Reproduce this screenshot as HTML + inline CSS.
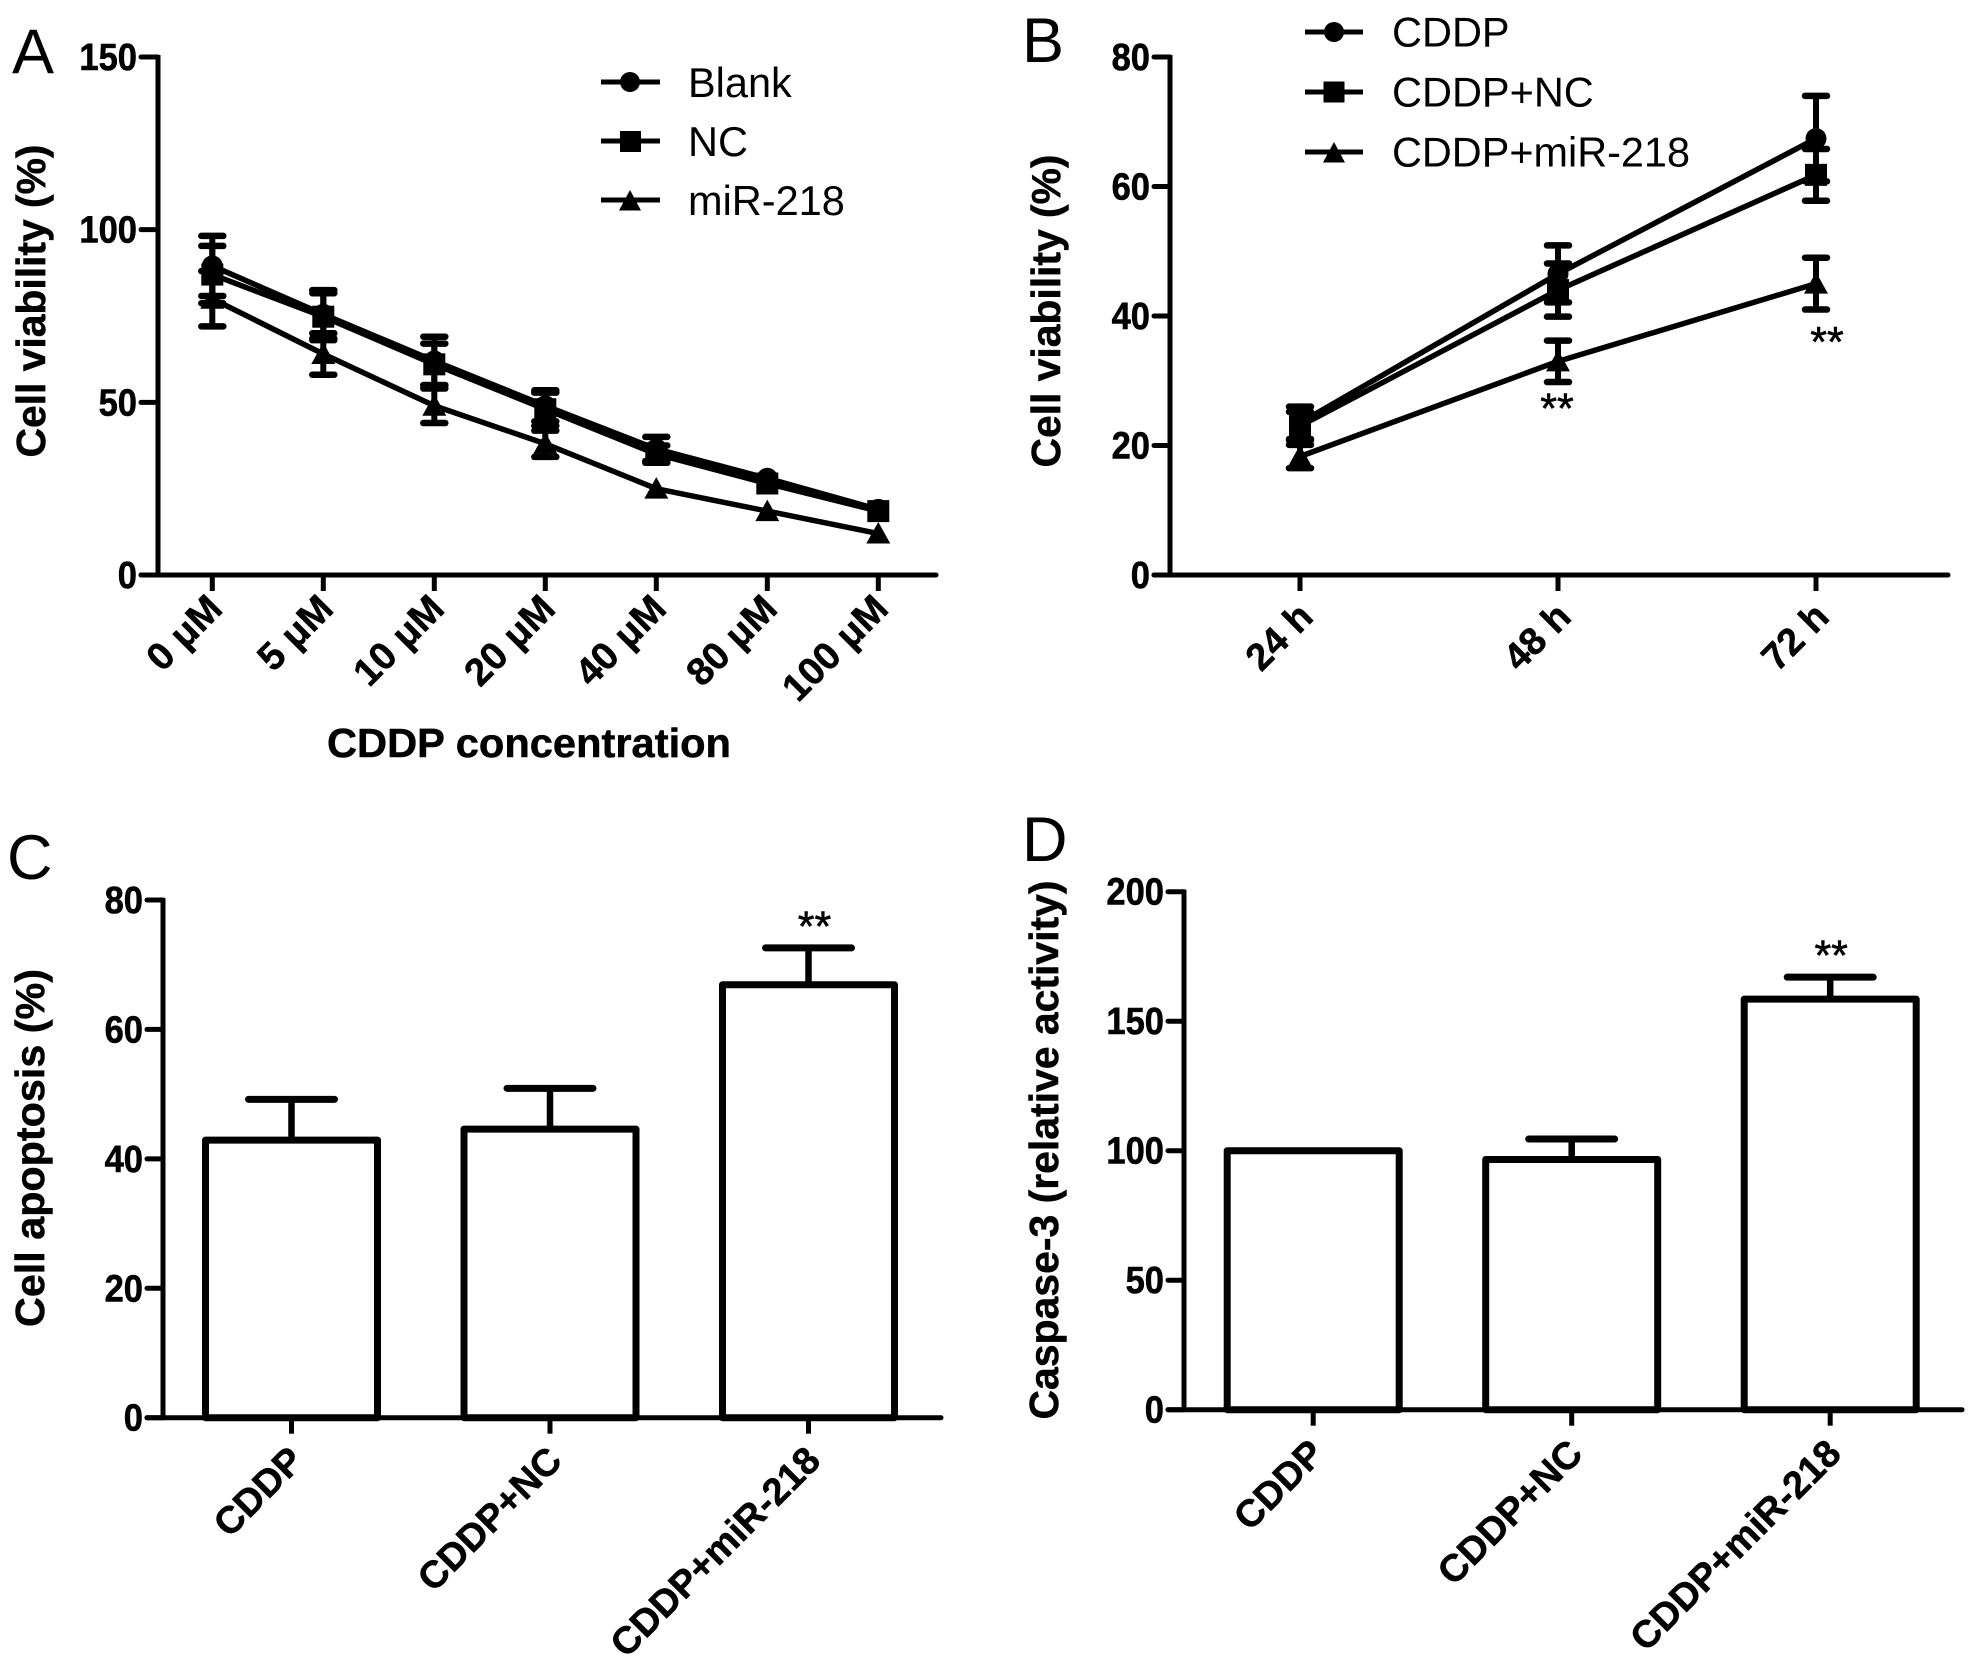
<!DOCTYPE html>
<html lang="en">
<head>
<meta charset="utf-8">
<title>Cell viability, apoptosis and caspase-3 charts</title>
<style>
html,body{margin:0;padding:0;background:#fff;width:1978px;height:1666px;overflow:hidden}
svg{display:block}
text{font-family:"Liberation Sans",Arial,sans-serif;fill:#000}
.panel-letter{font-size:63px}
.axis-title{font-size:41px;font-weight:bold;stroke:#000;stroke-width:.5px}
.legend-text{font-size:41.5px}
</style>
</head>
<body>
<svg id="figure" xmlns="http://www.w3.org/2000/svg" width="1978" height="1666" viewBox="0 0 1978 1666">
  <rect x="0" y="0" width="1978" height="1666" fill="#fff"/>

  <g id="panel-a">
    <text class="panel-letter" x="12" y="73">A</text>
    <text class="axis-title" transform="translate(45,301) rotate(-90)" text-anchor="middle" textLength="313" lengthAdjust="spacingAndGlyphs">Cell viability (%)</text>
    <text class="axis-title" x="327" y="757" textLength="404" lengthAdjust="spacingAndGlyphs">CDDP concentration</text>
    <g>
      <g>
        <line x1="601" x2="660" y1="82" y2="82" stroke="#000" stroke-width="5"/>
        <circle cx="630" cy="82" r="10"/>
        <text class="legend-text" x="688" y="97">Blank</text>
      </g>
      <g>
        <line x1="601" x2="660" y1="141" y2="141" stroke="#000" stroke-width="5"/>
        <rect x="620" y="131" width="21" height="21"/>
        <text class="legend-text" x="688" y="156">NC</text>
      </g>
      <g>
        <line x1="601" x2="660" y1="200" y2="200" stroke="#000" stroke-width="5"/>
        <polygon points="630,190 619,210.5 641,210.5"/>
        <text class="legend-text" x="688" y="215">miR-218</text>
      </g>
    </g>
  </g>

  <g id="panel-b">
    <text class="panel-letter" x="1022" y="62">B</text>
    <text class="axis-title" transform="translate(1060,311) rotate(-90)" text-anchor="middle" textLength="313" lengthAdjust="spacingAndGlyphs">Cell viability (%)</text>
    <g>
      <g>
        <line x1="1305" x2="1363" y1="32" y2="32" stroke="#000" stroke-width="5"/>
        <circle cx="1334" cy="32" r="10"/>
        <text class="legend-text" x="1392" y="46.5">CDDP</text>
      </g>
      <g>
        <line x1="1305" x2="1363" y1="92" y2="92" stroke="#000" stroke-width="5"/>
        <rect x="1323.5" y="81.5" width="21" height="21"/>
        <text class="legend-text" x="1392" y="106.5">CDDP+NC</text>
      </g>
      <g>
        <line x1="1305" x2="1363" y1="152" y2="152" stroke="#000" stroke-width="5"/>
        <polygon points="1334,142 1323,162.5 1345,162.5"/>
        <text class="legend-text" x="1392" y="166.5" textLength="298" lengthAdjust="spacingAndGlyphs">CDDP+miR-218</text>
      </g>
    </g>
  </g>

  <g id="panel-c">
    <text class="panel-letter" x="7" y="879">C</text>
    <text class="axis-title" transform="translate(44,1148) rotate(-90)" text-anchor="middle" textLength="358" lengthAdjust="spacingAndGlyphs">Cell apoptosis (%)</text>
  </g>

  <g id="panel-d">
    <text class="panel-letter" x="1022" y="861">D</text>
    <text class="axis-title" transform="translate(1058,1150) rotate(-90)" text-anchor="middle" textLength="539" lengthAdjust="spacingAndGlyphs">Caspase-3 (relative activity)</text>
  </g>
</svg>

<script>
// Panel A data
const panelACategories = ['0 μM','5 μM','10 μM','20 μM','40 μM','80 μM','100 μM'];
const panelATicks = [0,50,100,150];
const blankMeans = [89.5,75.5,62,49,36.5,28,19];
const blankErrors = [8.7,7,7,4.5,3.5,0,0];
const ncMeans = [87,74.8,61,48,35,26.5,18.5];
const ncErrors = [8.3,6.8,6,4.8,2.5,0,0];
const mirMeans = [80,64,49,38,25,18.5,12];
const mirErrors = [8,6,5,3.8,0,0,0];

// Panel B data
const panelBCategories = ['24 h','48 h','72 h'];
const panelBTicks = [0,20,40,60,80];
const cddpMeans = [23.5,46.5,67.4];
const cddpErrors = [2.5,4.4,6.6];
const cddpNcMeans = [23,44,61.8];
const cddpNcErrors = [2.2,4.1,4];
const cddpMirMeans = [18.3,33,45];
const cddpMirErrors = [1.8,3.2,4];

// Panel C data
const panelCCategories = ['CDDP','CDDP+NC','CDDP+miR-218'];
const panelCTicks = [0,20,40,60,80];
const apoptosisMeans = [42.9,44.6,66.9];
const apoptosisErrors = [6.3,6.3,5.7];

// Panel D data
const panelDCategories = ['CDDP','CDDP+NC','CDDP+miR-218'];
const panelDTicks = [0,50,100,150,200];
const caspaseMeans = [100,96.6,158.5];
const caspaseErrors = [0,7.9,8.5];

const NS = 'http://www.w3.org/2000/svg';

function mk(parent, tag, attrs, name) {
  const el = document.createElementNS(NS, tag);
  for (const k in attrs) el.setAttribute(k, attrs[k]);
  
  
  parent.appendChild(el);
  return el;
}

function yScale(ax) {
  return function (v) { return ax.y0 - (v / ax.vmax) * (ax.y0 - ax.yTop); };
}

function drawAxes(g, ax, yTicks, categories, xOf) {
  const y = yScale(ax);
  mk(g, 'line', {x1: ax.x0, x2: ax.x0, y1: ax.yTop - 2, y2: ax.y0, stroke: '#000', 'stroke-width': 5}, 'y-axis-line');
  mk(g, 'line', {x1: ax.xLeft, x2: ax.xRight, y1: ax.y0, y2: ax.y0, stroke: '#000', 'stroke-width': 5, 'stroke-linecap': 'round'}, 'x-axis-line');
  yTicks.forEach(function (t) {
    mk(g, 'line', {x1: ax.xLeft, x2: ax.x0, y1: y(t), y2: y(t), stroke: '#000', 'stroke-width': 5, 'stroke-linecap': 'round'}, 'y-tick-' + t);
    const s = String(t);
    const lab = mk(g, 'text', {x: ax.xLeft - 4, y: y(t) + 13, 'text-anchor': 'end', 'font-size': 38, 'font-weight': 'bold', stroke: '#000', 'stroke-width': 0.6, textLength: s.length * 19.2, lengthAdjust: 'spacingAndGlyphs'}, 'y-tick-label-' + t);
    lab.textContent = s;
  });
  categories.forEach(function (c, i) {
    const x = xOf(i);
    mk(g, 'line', {x1: x, x2: x, y1: ax.y0, y2: ax.y0 + 16, stroke: '#000', 'stroke-width': 5}, 'x-tick-' + i);
    const lx = x + ax.labelDx, ly = ax.y0 + ax.labelDy;
    const lab = mk(g, 'text', {transform: 'translate(' + lx + ',' + ly + ') rotate(-45)', 'text-anchor': 'end', 'font-size': ax.labelSize, 'font-weight': 'bold', stroke: '#000', 'stroke-width': 0.5}, 'x-tick-label-' + i);
    lab.textContent = c;
  });
}

function drawSeries(g, ax, means, errors, xOf, marker, name) {
  const y = yScale(ax);
  const s = mk(g, 'g', {}, 'series-' + name);
  const pts = means.map(function (m, i) { return xOf(i) + ',' + y(m); }).join(' ');
  means.forEach(function (m, i) {
    if (errors[i] <= 0) return;
    const x = xOf(i), hi = y(m + errors[i]), lo = y(m - errors[i]);
    mk(s, 'line', {x1: x, x2: x, y1: hi, y2: lo, stroke: '#000', 'stroke-width': 6}, name + '-error-bar-' + i);
    mk(s, 'line', {x1: x - 11, x2: x + 11, y1: hi, y2: hi, stroke: '#000', 'stroke-width': 6.5, 'stroke-linecap': 'round'}, name + '-error-cap-upper-' + i);
    mk(s, 'line', {x1: x - 11, x2: x + 11, y1: lo, y2: lo, stroke: '#000', 'stroke-width': 6.5, 'stroke-linecap': 'round'}, name + '-error-cap-lower-' + i);
  });
  mk(s, 'polyline', {points: pts, fill: 'none', stroke: '#000', 'stroke-width': 5.5, 'stroke-linejoin': 'round'}, name + '-line');
  means.forEach(function (m, i) {
    const x = xOf(i), py = y(m);
    if (marker === 'circle') {
      mk(s, 'circle', {cx: x, cy: py, r: 10.5}, name + '-point-' + i);
    } else if (marker === 'square') {
      mk(s, 'rect', {x: x - 11, y: py - 11, width: 22, height: 22}, name + '-point-' + i);
    } else {
      mk(s, 'polygon', {points: x + ',' + (py - 11.5) + ' ' + (x - 12) + ',' + (py + 10) + ' ' + (x + 12) + ',' + (py + 10)}, name + '-point-' + i);
    }
  });
}

function drawBars(g, ax, means, errors, xOf, halfWidth, name) {
  const y = yScale(ax);
  means.forEach(function (m, i) {
    const x = xOf(i), top = y(m), e = y(m + errors[i]);
    if (errors[i] > 0) {
      mk(g, 'line', {x1: x, x2: x, y1: e, y2: top, stroke: '#000', 'stroke-width': 6.5}, name + '-error-bar-' + i);
      mk(g, 'line', {x1: x - 43, x2: x + 43, y1: e, y2: e, stroke: '#000', 'stroke-width': 7, 'stroke-linecap': 'round'}, name + '-error-cap-' + i);
    }
    mk(g, 'rect', {x: x - halfWidth, y: top, width: halfWidth * 2, height: ax.y0 - top, fill: '#fff', stroke: '#000', 'stroke-width': 7, 'stroke-linejoin': 'round'}, name + '-bar-' + i);
  });
}

function stars(g, x, baseline, name) {
  const t = mk(g, 'text', {x: x, y: baseline, 'text-anchor': 'middle', 'font-size': 43, stroke: '#000', 'stroke-width': 0.6}, name);
  t.textContent = '**';
}

// Panel A
const axA = {x0: 158, yTop: 57, y0: 575, xLeft: 141, xRight: 936, vmax: 150, labelDx: 12, labelDy: 36, labelSize: 38.5};
const xA = function (i) { return 212.3 + i * 111; };
const gA = document.getElementById('panel-a');
drawSeries(gA, axA, blankMeans, blankErrors, xA, 'circle', 'blank');
drawSeries(gA, axA, ncMeans, ncErrors, xA, 'square', 'nc');
drawSeries(gA, axA, mirMeans, mirErrors, xA, 'triangle', 'mir-218');
drawAxes(gA, axA, panelATicks, panelACategories, xA);

// Panel B
const axB = {x0: 1170, yTop: 57, y0: 575, xLeft: 1154, xRight: 1948, vmax: 80, labelDx: 15, labelDy: 44, labelSize: 38};
const xB = function (i) { return 1300 + i * 258; };
const gB = document.getElementById('panel-b');
drawSeries(gB, axB, cddpMeans, cddpErrors, xB, 'circle', 'cddp');
drawSeries(gB, axB, cddpNcMeans, cddpNcErrors, xB, 'square', 'cddp-nc');
drawSeries(gB, axB, cddpMirMeans, cddpMirErrors, xB, 'triangle', 'cddp-mir-218');
drawAxes(gB, axB, panelBTicks, panelBCategories, xB);
const yB = yScale(axB);
stars(gB, xB(1) - 1, yB(cddpMirMeans[1] - cddpMirErrors[1]) + 41, 'significance-48h');
stars(gB, xB(2) + 11, yB(cddpMirMeans[2] - cddpMirErrors[2]) + 47, 'significance-72h');

// Panel C
const axC = {x0: 163, yTop: 900, y0: 1417.7, xLeft: 147, xRight: 941, vmax: 80, labelDx: 14, labelDy: 45, labelSize: 38};
const xC = function (i) { return 291.5 + i * 258.5; };
const gC = document.getElementById('panel-c');
drawBars(gC, axC, apoptosisMeans, apoptosisErrors, xC, 86, 'apoptosis');
drawAxes(gC, axC, panelCTicks, panelCCategories, xC);
stars(gC, xC(2) + 6, yScale(axC)(apoptosisMeans[2] + apoptosisErrors[2]) - 7, 'significance-apoptosis');

// Panel D
const axD = {x0: 1184, yTop: 891.7, y0: 1409.7, xLeft: 1168, xRight: 1962, vmax: 200, labelDx: 13, labelDy: 46, labelSize: 38.2};
const xD = function (i) { return 1313.2 + i * 258.5; };
const gD = document.getElementById('panel-d');
drawBars(gD, axD, caspaseMeans, caspaseErrors, xD, 86, 'caspase');
drawAxes(gD, axD, panelDTicks, panelDCategories, xD);
stars(gD, xD(2) + 1, yScale(axD)(caspaseMeans[2] + caspaseErrors[2]) - 7, 'significance-caspase');
</script>
</body>
</html>
